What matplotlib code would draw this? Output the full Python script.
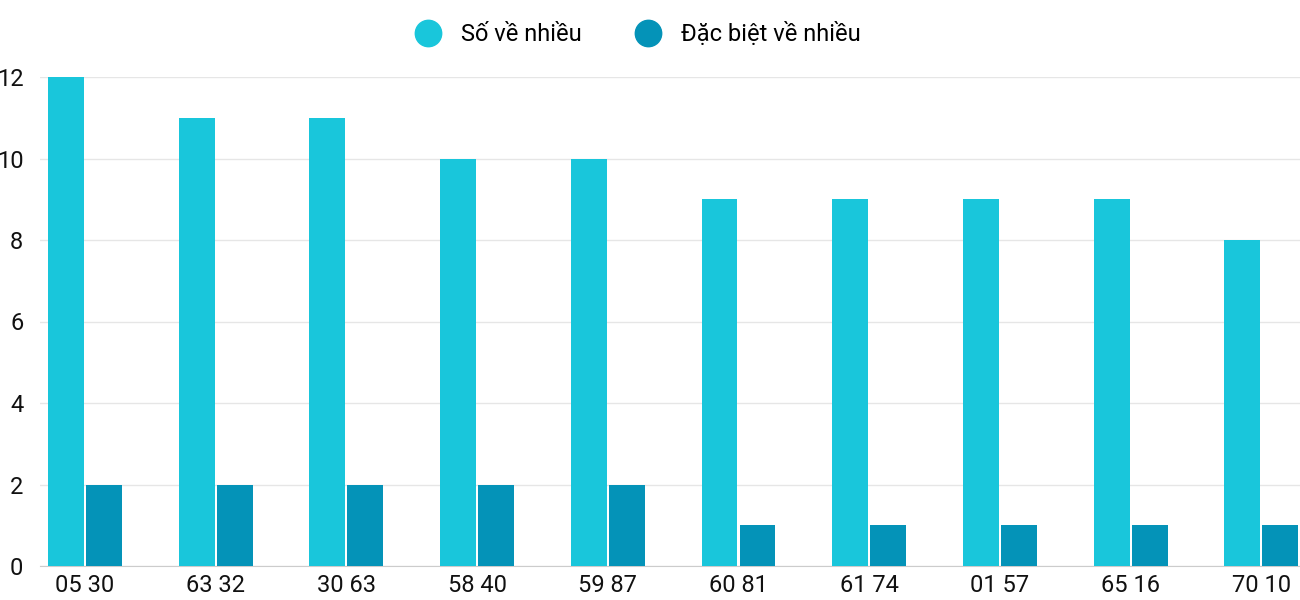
import matplotlib.pyplot as plt
from matplotlib.lines import Line2D
import numpy as np

categories = ["05 30", "63 32", "30 63", "58 40", "59 87", "60 81", "61 74", "01 57", "65 16", "70 10"]
so_ve_nhieu = [12, 11, 11, 10, 10, 9, 9, 9, 9, 8]
dac_biet = [2, 2, 2, 2, 2, 1, 1, 1, 1, 1]
colors = ["#19C6DB", "#0493B8"]
labels = ["Số về nhiều", "Đặc biệt về nhiều"]

plt.rcParams['font.family'] = ['Roboto', 'DejaVu Sans']
fig = plt.figure(figsize=(13, 6), dpi=100)
ax = fig.add_axes([40 / 1300, 34 / 600, 1260 / 1300, 489 / 600])

x = np.arange(len(categories))
w = 0.275
ax.bar(x - w / 2 - 0.008, so_ve_nhieu, width=w, color=colors[0], zorder=3)
ax.bar(x + w / 2 + 0.008, dac_biet, width=w, color=colors[1], zorder=3)

ax.set_xlim(-0.344, 9.296)
ax.set_ylim(0, 12)
ax.set_yticks(range(0, 13, 2))
ax.set_xticks(x, categories)
ax.tick_params(axis='both', length=0, labelsize=17, colors="#111111")
ax.tick_params(axis='y', pad=12)
ax.tick_params(axis='x', pad=6)
ax.grid(axis='y', color="#e6e6e6", linewidth=1, zorder=0)
for s in ["top", "right", "left"]:
    ax.spines[s].set_visible(False)
ax.spines["bottom"].set_color("#cccccc")

handles = [Line2D([], [], marker='o', linestyle='none', markersize=19, color=c) for c in colors]
ax.legend(handles, labels, loc="upper center", bbox_to_anchor=(0.47, 1.155), ncol=2, frameon=False,
          fontsize=17, handletextpad=0.4, columnspacing=1.8)
fig.savefig("out.png")
